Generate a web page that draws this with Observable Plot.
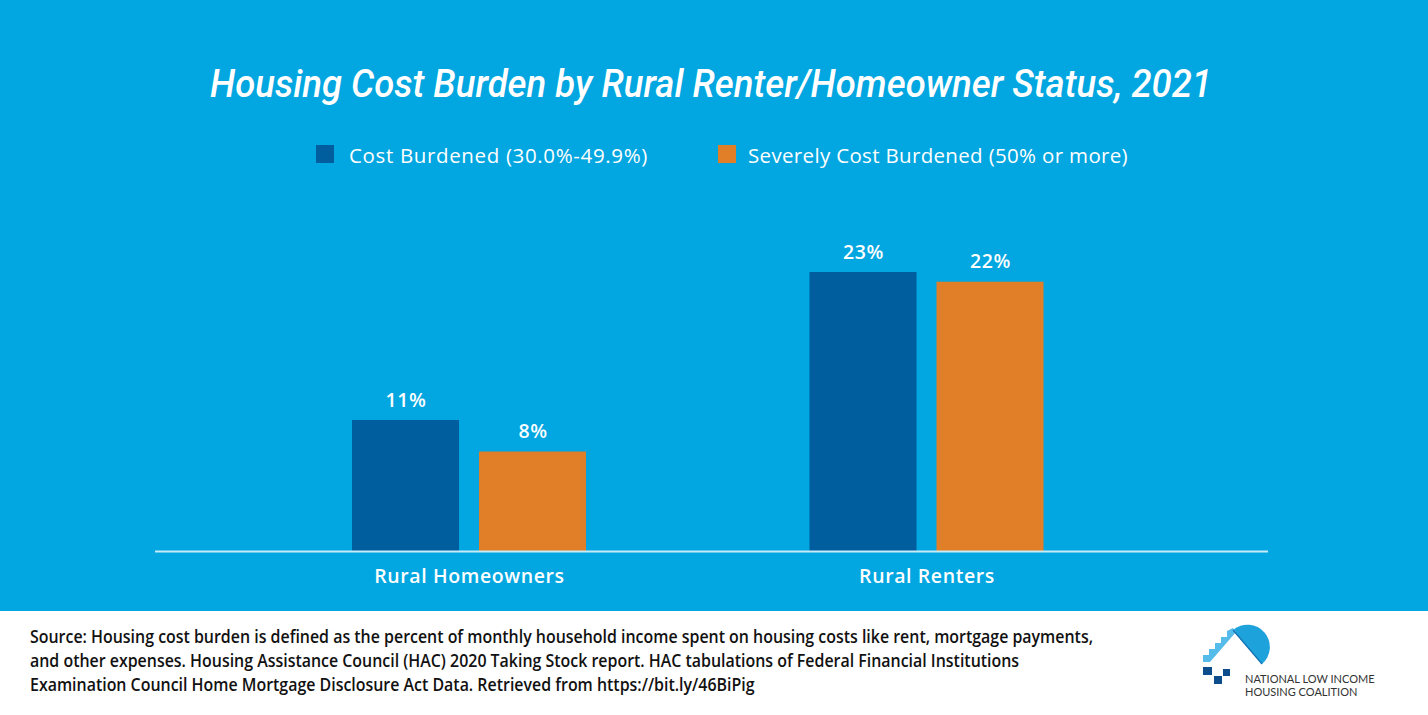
<!DOCTYPE html>
<html><head><meta charset="utf-8">
<script src="https://cdn.jsdelivr.net/npm/d3@7"></script>
<script src="https://cdn.jsdelivr.net/npm/@observablehq/plot@0.6"></script>
<style>
body{margin:0;width:1428px;height:715px;overflow:hidden;background:#fff;font-family:"Open Sans",sans-serif}
#top{position:relative;background:#02a6e0;height:611px;width:1428px}
#title{position:absolute;top:60px;left:210px;white-space:nowrap;color:#fff;font-family:Roboto,sans-serif;font-style:italic;font-weight:500;font-size:39px;line-height:48px;transform-origin:left center}
.item{position:absolute;top:142px;height:26px;color:#fff;font-size:20.5px;line-height:26px;font-weight:500;white-space:nowrap}
.sw{position:absolute;top:145px;width:18px;height:18px}
#chart{position:absolute;top:190px;left:0}
#foot{position:absolute;top:624px;left:30px;color:#111;font-family:"Open Sans",sans-serif;font-weight:600;font-size:17.5px;line-height:24px}
#foot span{display:block;white-space:nowrap;transform-origin:left center}
#logo{position:absolute;left:1196px;top:624px}
</style></head>
<body>
<div id="top">
  <div id="title">Housing Cost Burden by Rural Renter/Homeowner Status, 2021</div>
  <div id="legend"></div>
  <div id="chart"></div>
</div>
<div id="foot"><span>Source: Housing cost burden is defined as the percent of monthly household income spent on housing costs like rent, mortgage payments,</span><span>and other expenses. Housing Assistance Council (HAC) 2020 Taking Stock report. HAC tabulations of Federal Financial Institutions</span><span>Examination Council Home Mortgage Disclosure Act Data. Retrieved from https://bit.ly/46BiPig</span></div>
<svg id="logo" width="200" height="80" viewBox="0 0 200 80">
  <path d="M37 6 A22 22 0 0 1 66 40 Z" fill="#1ea2dc"/>
  <path d="M7 38 L7 31 L13 31 L13 25 L19 25 L19 19 L25 19 L25 13 L31 13 L31 7 L37 4 L40 8 L14 38 Z" fill="#55bbe8"/>
  <line x1="37" y1="6" x2="66" y2="40" stroke="#0f6fb0" stroke-width="1.2"/>
  <rect x="7" y="43" width="9" height="8" fill="#0d4d8b"/>
  <rect x="18" y="52" width="8" height="8" fill="#0d4d8b"/>
  <rect x="27" y="45" width="7" height="7" fill="#0d4d8b"/>
  <text x="49" y="59" font-family="Lato" font-size="11" fill="#333">NATIONAL LOW INCOME</text>
  <text x="49" y="72" font-family="Lato" font-size="11" fill="#333">HOUSING COALITION</text>
</svg>
<script>
const groups = ["Rural Homeowners", "Rural Renters"];
const series = ["Cost Burdened (30.0%-49.9%)", "Severely Cost Burdened (50% or more)"];
const costBurdened = [10.8, 23.0];
const severelyBurdened = [8.2, 22.2];
const colors = ["#005e9e", "#e07f27"];

const rowsA = groups.map((g, i) => ({group: g, series: series[0], value: costBurdened[i]}));
const rowsB = groups.map((g, i) => ({group: g, series: series[1], value: severelyBurdened[i]}));

// legend (HTML)
const legend = document.getElementById("legend");
const legPos = [[316, 349, 299], [718, 748, 380]];
series.forEach((s, i) => {
  const sw = document.createElement("div"); sw.className = "sw";
  sw.style.left = legPos[i][0] + "px"; sw.style.background = colors[i];
  const t = document.createElement("div"); t.className = "item";
  t.style.left = legPos[i][1] + "px"; t.textContent = s;
  legend.append(sw, t);
  const w = t.getBoundingClientRect().width;
  t.style.letterSpacing = ((legPos[i][2] - w) / s.length) + "px";
});

// title fit
const title = document.getElementById("title");
title.style.transform = `scaleX(${1002 / title.getBoundingClientRect().width})`;

// footer fit
const spans = document.querySelectorAll("#foot span");
const r = document.createRange(); r.selectNodeContents(spans[0]);
const k = 1063 / r.getBoundingClientRect().width;
spans.forEach(s => s.style.transform = `scaleX(${k})`);

const fmt = d => Math.round(d.value) + "%";
const chart = Plot.plot({
  width: 1428, height: 421,
  marginLeft: 155, marginRight: 160, marginTop: 82, marginBottom: 60,
  style: {background: "transparent", color: "#fff", fontFamily: "'Open Sans', sans-serif", fontSize: "19px", letterSpacing: "0.6px"},
  x: {domain: groups, range: [128.5, 1267], paddingInner: 0.4885, paddingOuter: 0.4885, round: false, label: null},
  y: {domain: [0, 23], axis: null},
  color: {domain: series, range: colors},
  marks: [
    Plot.barY(rowsA, {x: "group", y: "value", fill: "series", insetRight: 127}),
    Plot.barY(rowsB, {x: "group", y: "value", fill: "series", insetLeft: 127}),
    Plot.text(rowsA, {x: "group", y: "value", text: fmt, dx: -63.5, dy: -20, fill: "#fff", fontWeight: 600, fontSize: 19.5}),
    Plot.text(rowsB, {x: "group", y: "value", text: fmt, dx: 63.5, dy: -20, fill: "#fff", fontWeight: 600, fontSize: 19.5}),
    Plot.ruleY([0], {stroke: "#c6ecfa", strokeWidth: 2}),
    Plot.axisX({tickSize: 0, tickPadding: 18, fontSize: 19.5, fontWeight: 600, fill: "#fff"})
  ]
});
document.getElementById("chart").append(chart);
</script>
</body></html>
